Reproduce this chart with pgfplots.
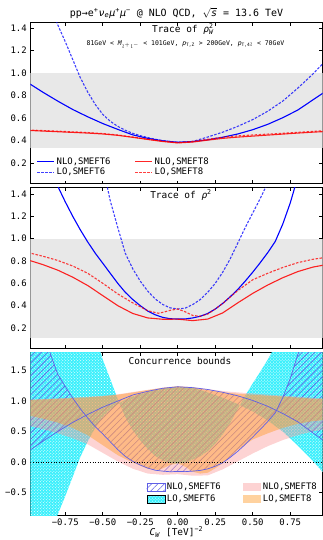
\documentclass[border=0pt]{standalone}
\usepackage{pgfplots}
\pgfplotsset{compat=1.18}
\usepgfplotslibrary{fillbetween}
\usetikzlibrary{patterns,patterns.meta}
\usepackage{fontspec}
\setmainfont{DejaVu Sans Mono}
\newcommand\fs[1]{\fontsize{#1}{#1}\selectfont}
\definecolor{bandgrey}{RGB}{232,232,232}
\definecolor{hatchc}{RGB}{95,95,230}
\definecolor{cyanc}{RGB}{60,240,252}
\definecolor{pinkc}{RGB}{250,150,150}
\definecolor{orangec}{RGB}{255,160,50}
\pgfplotsset{
  panel/.style={
    scale only axis, width=292.2bp, xmin=-0.983, xmax=0.965,
    axis line style={line width=0.8bp}, tick style={black, line width=0.6bp},
    major tick length=3.5bp,
    xtick={-0.75,-0.5,-0.25,0,0.25,0.5,0.75},
    tick label style={font=\fs{9}},
    legend cell align=left,
  },
  nlo6/.style={blue, line width=1.1bp},
  lo6/.style={blue, opacity=0.75, line width=1.1bp, dash pattern=on 2.5bp off 1.5bp},
  nlo8/.style={red, opacity=0.85, line width=1.1bp},
  lo8/.style={red, opacity=0.75, line width=1.1bp, dash pattern=on 2.5bp off 1.5bp},
  hatchstyle/.style={pattern={Lines[angle=45,distance=4.5bp,line width=0.6bp]}, pattern color=hatchc},
  boxlegend/.style={legend image code/.code={\fill[##1, draw=none] (0bp,-3.5bp) rectangle (18bp,4bp);}},
  hatchlegend/.style={legend image code/.code={\draw[##1] (0bp,-3.5bp) rectangle (18bp,4bp);}},
}
\begin{document}
\begin{tikzpicture}
% ---------------- Panel 1 ----------------
\begin{axis}[panel, at={(30.3bp,-22bp)}, anchor=north west, height=161bp,
  ymin=0.02, ymax=1.455,
  ytick={0.2,0.4,0.6,0.8,1.0,1.2,1.4}, yticklabels={0.2,0.4,0.6,0.8,1.0,1.2,1.4},
  xticklabels={},
  legend columns=2,
  legend style={at={(0.012,0.012)}, anchor=south west, draw=none, fill=white, font=\fs{9},
    /tikz/every even column/.append style={column sep=22bp}, row sep=-1.5bp, inner sep=2.5bp},
]
\addplot[draw=none, fill=bandgrey, forget plot] coordinates {(-1,0.3333) (1,0.3333) (1,1) (-1,1)} -- cycle;
\addplot[nlo6, forget plot] coordinates {(-1.0,0.915)(-0.9,0.83)(-0.8,0.75)(-0.7,0.675)(-0.6,0.61)(-0.5,0.55)(-0.4,0.498)(-0.3,0.449)(-0.2,0.418)(-0.1,0.396)(0,0.383)(0.1,0.39)(0.2,0.405)(0.3,0.428)(0.4,0.457)(0.5,0.495)(0.6,0.543)(0.7,0.602)(0.8,0.67)(0.9,0.76)(1.0,0.85)};
\addplot[lo6, forget plot] coordinates {(-0.9,1.8)(-0.85,1.6)(-0.8,1.43)(-0.75,1.28)(-0.7,1.12)(-0.65,0.96)(-0.6,0.83)(-0.55,0.72)(-0.5,0.632)(-0.45,0.57)(-0.4,0.525)(-0.35,0.49)(-0.3,0.463)(-0.25,0.442)(-0.2,0.425)(-0.15,0.41)(-0.1,0.398)(-0.05,0.389)(0,0.383)(0.1,0.39)(0.2,0.43)(0.3,0.473)(0.4,0.525)(0.5,0.585)(0.6,0.66)(0.7,0.75)(0.8,0.865)(0.9,0.99)(1.0,1.13)};
\addplot[nlo8, forget plot] coordinates {(-1.0,0.489)(-0.8,0.477)(-0.6,0.465)(-0.5,0.457)(-0.4,0.445)(-0.3,0.427)(-0.2,0.408)(-0.1,0.39)(0,0.377)(0.1,0.385)(0.2,0.402)(0.3,0.418)(0.4,0.429)(0.5,0.438)(0.6,0.447)(0.7,0.456)(0.8,0.465)(0.9,0.473)(1.0,0.48)};
\addplot[lo8, forget plot] coordinates {(-1.0,0.493)(-0.8,0.482)(-0.6,0.47)(-0.5,0.461)(-0.4,0.448)(-0.3,0.43)(-0.2,0.41)(-0.1,0.392)(0,0.38)(0.1,0.39)(0.2,0.41)(0.3,0.428)(0.4,0.44)(0.5,0.448)(0.6,0.456)(0.7,0.463)(0.8,0.472)(0.9,0.48)(1.0,0.488)};
\addlegendimage{blue, line width=1.1bp}\addlegendentry{NLO,SMEFT6}
\addlegendimage{red, opacity=0.85, line width=1.1bp}\addlegendentry{NLO,SMEFT8}
\addlegendimage{lo6}\addlegendentry{LO,SMEFT6}
\addlegendimage{lo8}\addlegendentry{LO,SMEFT8}
\end{axis}
% ---------------- Panel 2 ----------------
\begin{axis}[panel, at={(30.3bp,-187.3bp)}, anchor=north west, height=161bp,
  ymin=0.018, ymax=1.46,
  ytick={0.2,0.4,0.6,0.8,1.0,1.2,1.4}, yticklabels={0.2,0.4,0.6,0.8,1.0,1.2,1.4},
  xticklabels={},
]
\addplot[draw=none, fill=bandgrey, forget plot] coordinates {(-1,0.1111) (1,0.1111) (1,1) (-1,1)} -- cycle;
\addplot[nlo6, forget plot] coordinates {(-0.9,1.95)(-0.85,1.68)(-0.8,1.47)(-0.75,1.33)(-0.7,1.2)(-0.65,1.08)(-0.6,0.97)(-0.55,0.87)(-0.5,0.78)(-0.45,0.69)(-0.4,0.6)(-0.35,0.52)(-0.3,0.455)(-0.25,0.4)(-0.2,0.352)(-0.15,0.318)(-0.1,0.295)(-0.05,0.283)(0,0.28)(0.05,0.281)(0.1,0.29)(0.15,0.305)(0.2,0.33)(0.25,0.37)(0.3,0.42)(0.35,0.48)(0.4,0.545)(0.45,0.62)(0.5,0.7)(0.55,0.785)(0.6,0.875)(0.65,0.975)(0.7,1.13)(0.75,1.32)(0.8,1.55)(0.85,1.8)};
\addplot[lo6, forget plot] coordinates {(-0.55,1.95)(-0.5,1.65)(-0.45,1.34)(-0.4,1.1)(-0.35,0.87)(-0.3,0.73)(-0.25,0.62)(-0.2,0.53)(-0.15,0.46)(-0.1,0.41)(-0.05,0.38)(0,0.37)(0.05,0.378)(0.1,0.41)(0.15,0.455)(0.2,0.52)(0.25,0.6)(0.3,0.7)(0.35,0.82)(0.4,0.96)(0.45,1.1)(0.5,1.23)(0.55,1.36)(0.6,1.5)(0.65,1.65)(0.7,1.8)};
\addplot[nlo8, forget plot] coordinates {(-1.0,0.81)(-0.9,0.768)(-0.8,0.718)(-0.7,0.655)(-0.6,0.58)(-0.5,0.49)(-0.4,0.4)(-0.3,0.33)(-0.2,0.29)(-0.1,0.278)(0,0.279)(0.1,0.266)(0.2,0.28)(0.3,0.335)(0.4,0.425)(0.5,0.51)(0.6,0.585)(0.7,0.65)(0.8,0.705)(0.9,0.745)(1.0,0.77)};
\addplot[lo8, forget plot] coordinates {(-1.0,0.876)(-0.9,0.843)(-0.8,0.805)(-0.7,0.755)(-0.6,0.69)(-0.5,0.6)(-0.4,0.505)(-0.3,0.425)(-0.2,0.355)(-0.13,0.332)(-0.1,0.34)(-0.05,0.358)(0,0.37)(0.05,0.345)(0.1,0.312)(0.15,0.305)(0.2,0.325)(0.25,0.37)(0.3,0.42)(0.4,0.535)(0.5,0.632)(0.6,0.69)(0.7,0.742)(0.8,0.785)(0.9,0.815)(1.0,0.835)};
\end{axis}
% ---------------- Panel 3 ----------------
\begin{axis}[panel, at={(30.3bp,-352.3bp)}, anchor=north west, height=162.7bp,
  ymin=-0.87, ymax=1.8,
  ytick={-0.5,0,0.5,1.0,1.5}, yticklabels={−0.5,0.0,0.5,1.0,1.5},
  xticklabels={−0.75,−0.50,−0.25,0.00,0.25,0.50,0.75},
  xlabel={\textit{C}\textsubscript{\textit{W}}  [TeV]\textsuperscript{−2}},
  xlabel style={font=\fs{9.5}, yshift=5.5bp},
  legend columns=2,
  legend style={at={(0.995,0.045)}, anchor=south east, draw=none, fill=none, font=\fs{9},
    /tikz/every even column/.append style={column sep=20bp}, row sep=0bp, inner sep=2bp},
]
% LO SMEFT6 bounds
\addplot[name path=Ul6, draw=none, forget plot] coordinates {(-1.0,-2.3)(-0.9,-1.6)(-0.85,-1.2)(-0.8,-0.86)(-0.75,-0.56)(-0.7,-0.24)(-0.65,0.08)(-0.6,0.34)(-0.55,0.56)(-0.5,0.736)(-0.45,0.86)(-0.4,0.95)(-0.35,1.02)(-0.3,1.074)(-0.25,1.116)(-0.2,1.15)(-0.15,1.18)(-0.1,1.204)(-0.05,1.222)(0,1.234)(0.1,1.22)(0.2,1.14)(0.3,1.054)(0.4,0.95)(0.5,0.83)(0.6,0.68)(0.7,0.5)(0.8,0.27)(0.9,0.02)(1.0,-0.26)};
\addplot[name path=Ll6, draw=none, forget plot] coordinates {(-1.0,6)(-0.8,4.5)(-0.7,3.7)(-0.6,2.6)(-0.55,2.1)(-0.5,1.68)(-0.45,1.36)(-0.4,1.03)(-0.35,0.74)(-0.3,0.52)(-0.25,0.356)(-0.2,0.21)(-0.15,0.1)(-0.1,0.024)(-0.05,-0.018)(0,-0.026)(0.05,-0.014)(0.1,0.04)(0.15,0.094)(0.2,0.18)(0.25,0.3)(0.3,0.454)(0.35,0.644)(0.4,0.87)(0.45,1.09)(0.5,1.29)(0.55,1.48)(0.6,1.68)(0.65,1.9)(0.7,2.15)(0.8,2.7)(0.9,3.3)(1.0,4)};
\addplot[fill=cyanc, draw=none, postaction={pattern=crosshatch dots, pattern color=white}, forget plot] fill between[of=Ul6 and Ll6];
% NLO SMEFT6 bounds
\addplot[name path=Un6, draw=hatchc, line width=0.7bp, forget plot] coordinates {(-1.0,0.17)(-0.9,0.34)(-0.8,0.5)(-0.7,0.65)(-0.6,0.78)(-0.5,0.9)(-0.4,1.0)(-0.3,1.1)(-0.2,1.16)(-0.1,1.21)(0,1.234)(0.1,1.22)(0.2,1.19)(0.3,1.144)(0.4,1.086)(0.5,1.01)(0.6,0.914)(0.7,0.796)(0.8,0.66)(0.9,0.48)(1.0,0.3)};
\addplot[name path=Ln6, draw=hatchc, line width=0.7bp, forget plot] coordinates {(-1.0,3.4)(-0.9,2.3)(-0.85,1.78)(-0.8,1.44)(-0.75,1.24)(-0.7,1.05)(-0.65,0.876)(-0.6,0.72)(-0.55,0.58)(-0.5,0.46)(-0.45,0.332)(-0.4,0.204)(-0.35,0.092)(-0.3,0.01)(-0.25,-0.05)(-0.2,-0.1)(-0.15,-0.135)(-0.1,-0.15)(-0.05,-0.16)(0,-0.155)(0.05,-0.158)(0.1,-0.15)(0.15,-0.138)(0.2,-0.113)(0.25,-0.07)(0.3,-0.012)(0.35,0.076)(0.4,0.176)(0.45,0.288)(0.5,0.41)(0.55,0.534)(0.6,0.664)(0.65,0.806)(0.7,1.056)(0.75,1.368)(0.8,1.76)(0.85,2.1)(0.9,2.6)(1.0,3.4)};
\addplot[hatchstyle, draw=none, forget plot] fill between[of=Un6 and Ln6];
% NLO SMEFT8 bounds
\addplot[name path=Un8, draw=none, forget plot] coordinates {(-1.0,1.022)(-0.8,1.046)(-0.6,1.07)(-0.5,1.086)(-0.4,1.11)(-0.3,1.148)(-0.2,1.184)(-0.1,1.22)(0,1.246)(0.1,1.23)(0.2,1.196)(0.3,1.164)(0.4,1.142)(0.5,1.124)(0.6,1.106)(0.7,1.088)(0.8,1.07)(0.9,1.054)(1.0,1.04)};
\addplot[name path=Ln8, draw=none, forget plot] coordinates {(-1.0,0.6)(-0.9,0.54)(-0.8,0.47)(-0.7,0.39)(-0.6,0.29)(-0.5,0.15)(-0.4,0.01)(-0.3,-0.11)(-0.2,-0.19)(-0.1,-0.21)(0,-0.2)(0.1,-0.225)(0.2,-0.22)(0.3,-0.12)(0.4,0.01)(0.5,0.14)(0.6,0.26)(0.7,0.36)(0.8,0.44)(0.9,0.5)(1.0,0.55)};
\addplot[fill=pinkc, fill opacity=0.42, draw=none, forget plot] fill between[of=Un8 and Ln8];
% LO SMEFT8 bounds
\addplot[name path=Ul8, draw=none, forget plot] coordinates {(-1.0,1.016)(-0.8,1.036)(-0.6,1.06)(-0.5,1.078)(-0.4,1.104)(-0.3,1.14)(-0.2,1.18)(-0.1,1.216)(0,1.24)(0.1,1.22)(0.2,1.18)(0.3,1.144)(0.4,1.12)(0.5,1.104)(0.6,1.088)(0.7,1.074)(0.8,1.056)(0.9,1.04)(1.0,1.024)};
\addplot[name path=Ll8, draw=none, forget plot] coordinates {(-1.0,0.768)(-0.9,0.712)(-0.8,0.646)(-0.7,0.558)(-0.6,0.44)(-0.5,0.276)(-0.4,0.112)(-0.3,-0.01)(-0.2,-0.11)(-0.13,-0.13)(-0.1,-0.104)(-0.05,-0.05)(0,-0.02)(0.05,-0.078)(0.1,-0.16)(0.15,-0.19)(0.2,-0.176)(0.25,-0.104)(0.3,-0.02)(0.4,0.2)(0.5,0.37)(0.6,0.47)(0.7,0.56)(0.8,0.626)(0.9,0.67)(1.0,0.694)};
\addplot[fill=orangec, fill opacity=0.47, draw=none, forget plot] fill between[of=Ul8 and Ll8];
\addplot[black, dotted, line width=0.6bp, forget plot] coordinates {(-1,0) (1,0)};
\addlegendimage{hatchlegend, draw=hatchc, hatchstyle}\addlegendentry{NLO,SMEFT6}
\addlegendimage{boxlegend, fill=pinkc, fill opacity=0.42}\addlegendentry{NLO,SMEFT8}
\addlegendimage{boxlegend, fill=cyanc, postaction={pattern=crosshatch dots, pattern color=white}}\addlegendentry{LO,SMEFT6}
\addlegendimage{boxlegend, fill=orangec, fill opacity=0.47}\addlegendentry{LO,SMEFT8}
\end{axis}
% ---------------- Titles ----------------
\node[font=\fs{10}] at (176.5bp,-13bp) {pp→e\textsuperscript{+}\textit{ν}\textsubscript{\textit{e}}\textit{μ}\textsuperscript{+}\textit{μ}\textsuperscript{−} @ NLO QCD, $\sqrt{\mbox{\textit{s}}}$ = 13.6 TeV};
\node[font=\fs{9.5}, inner sep=1bp] at (183bp,-29bp) {Trace of \textit{ρ}$^{\mbox{\fs{6.5}2}}_{\mbox{\fs{6.5}\textit{W}}}$};
\node[font=\fs{6.5}, inner sep=1bp] at (185.5bp,-44.5bp) {81GeV < \textit{M}\textsubscript{\textit{l}$^+$\textit{l}$^-$} < 101GeV,  \textit{p}\textsubscript{T,Z} > 200GeV,  \textit{p}\textsubscript{T,4\textit{l}} < 70GeV};
\node[font=\fs{9.5}] at (181bp,-195bp) {Trace of \textit{ρ}\textsuperscript{2}};
\node[font=\fs{9.5}] at (180bp,-361bp) {Concurrence bounds};
\pgfresetboundingbox
\useasboundingbox (0bp,0bp) rectangle (323bp,-540bp);
\end{tikzpicture}
\end{document}
